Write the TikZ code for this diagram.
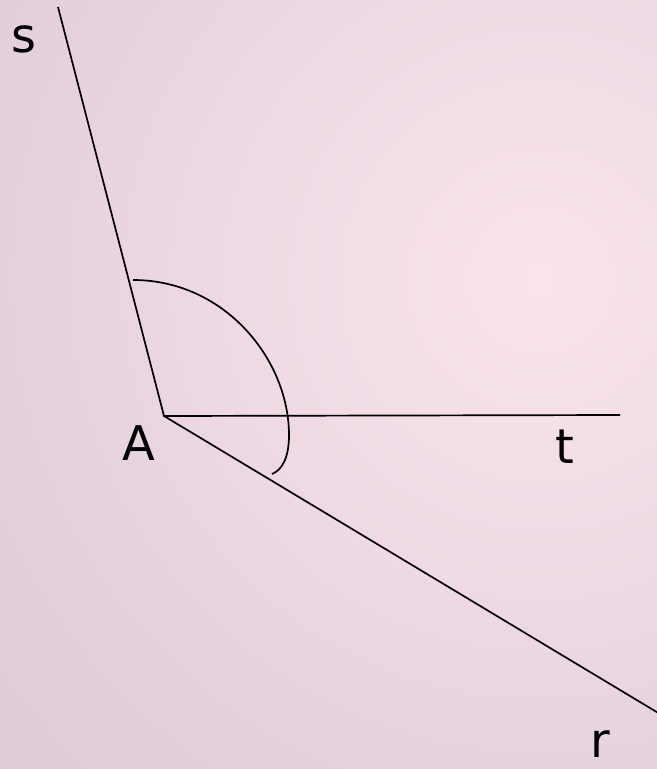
\documentclass[tikz,border=0pt]{standalone}
\usepackage{fontspec}
\setmainfont{DejaVu Sans}
\definecolor{bgedge}{RGB}{220,202,215}
\definecolor{bgmid}{RGB}{251,228,237}
\begin{document}
\begin{tikzpicture}[x=1bp,y=-1bp,
  ray/.style={line width=1.7bp,black},
  lbl/.style={inner sep=0pt,anchor=base,font=\fontsize{48}{48}\selectfont}]
\useasboundingbox (0,0) rectangle (657,769);
\begin{scope}
\clip (0,0) rectangle (657,769);
\fill[bgedge] (0,0) rectangle (657,769);
\shade[inner color=bgmid,outer color=bgedge] (540,280) circle[radius=740];
\end{scope}
\coordinate (A) at (164,416);
\coordinate (sEnd) at (58,7);
\coordinate (tEnd) at (620,415);
\coordinate (rEnd) at (660,714);
\coordinate (arcS) at (133,280);
\coordinate (arcM) at (289,435);
\coordinate (arcE) at (272,474);
\draw[ray] (sEnd) -- (A) -- (tEnd);
\draw[ray] (A) -- (rEnd);
\draw[ray] (arcS) .. controls (225,280) and (289,360) .. (arcM)
  .. controls (289,458) and (282,470) .. (arcE);
\node[lbl] (s) at (24,53) {s};
\node[lbl] (Alab) at (139,460) {A};
\node[lbl] (t) at (565,463) {t};
\node[lbl] (r) at (600,757) {r};
\end{tikzpicture}
\end{document}
